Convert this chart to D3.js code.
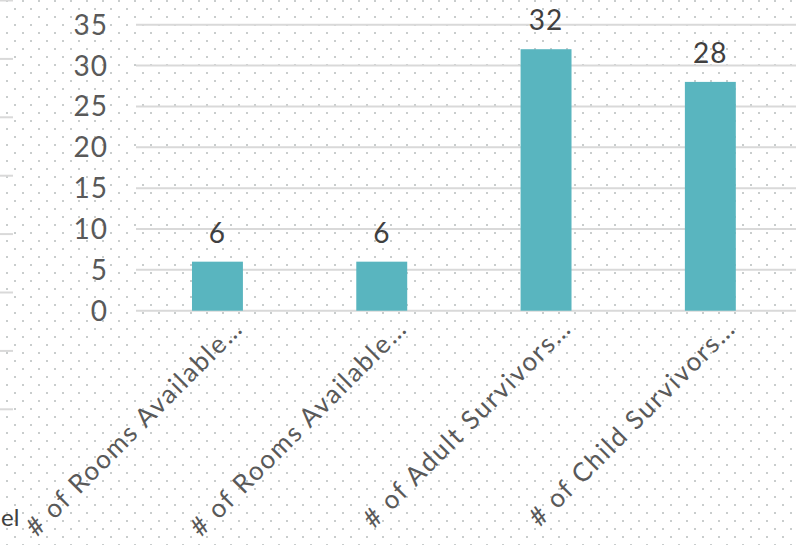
<!DOCTYPE html>
<html>
<head>
<meta charset="utf-8">
<script src="https://cdn.jsdelivr.net/npm/d3@7"></script>
<style>
  html, body { margin: 0; padding: 0; background: #fff; }
  svg { display: block; }
  text { font-family: Lato, "Open Sans", sans-serif; }
</style>
</head>
<body>
<svg id="chart" width="796" height="545"></svg>
<script>
const categories = [
  "# of Rooms Available\u2026",
  "# of Rooms Available\u2026",
  "# of Adult Survivors\u2026",
  "# of Child Survivors\u2026"
];
const values = [6, 6, 32, 28];
const yTicks = [0, 5, 10, 15, 20, 25, 30, 35];

const W = 796, H = 545;
const svg = d3.select("#chart");

// dotted background
const defs = svg.append("defs");
const pat = defs.append("pattern")
  .attr("id", "dots").attr("patternUnits", "userSpaceOnUse")
  .attr("width", 16).attr("height", 16);
pat.append("rect").attr("x", 6).attr("y", 0).attr("width", 2).attr("height", 2).attr("fill", "#c9cdcd");
pat.append("rect").attr("x", 14).attr("y", 8).attr("width", 2).attr("height", 2).attr("fill", "#c9cdcd");
svg.append("rect").attr("width", W).attr("height", H).attr("fill", "#fff");
svg.append("rect").attr("width", W).attr("height", H).attr("fill", "url(#dots)");

// ghost ticks of an underlying chart at the left edge
d3.range(8).forEach(i => {
  svg.append("line").attr("x1", 0).attr("x2", 13)
    .attr("y1", 0.5 + i * 58.4).attr("y2", 0.5 + i * 58.4)
    .attr("stroke", "#d9d9d9").attr("stroke-width", 2);
});
svg.append("text").attr("x", 1).attr("y", 526).attr("text-anchor", "start")
  .attr("font-size", 24).attr("fill", "#404040").text("el");

const x = d3.scaleBand().domain(d3.range(categories.length))
  .range([135.3, 792.5]).paddingInner(0.69).paddingOuter(0.345);
const y = d3.scaleLinear().domain([0, 35]).range([310.7, 24.7]);

// gridlines
svg.append("g").selectAll("line").data(yTicks).join("line")
  .attr("x1", 136).attr("x2", W)
  .attr("y1", d => y(d)).attr("y2", d => y(d))
  .attr("stroke", "#d9d9d9").attr("stroke-width", 2);

// y tick labels
svg.append("g").selectAll("text").data(yTicks).join("text")
  .attr("x", 108).attr("y", d => y(d) + 10)
  .attr("text-anchor", "end").attr("font-size", 28).attr("fill", "#595959")
  .attr("letter-spacing", 1)
  .text(d => d);

// bars
svg.append("g").selectAll("rect").data(values).join("rect")
  .attr("x", (d, i) => x(i)).attr("width", x.bandwidth())
  .attr("y", d => y(d)).attr("height", d => y(0) - y(d))
  .attr("fill", "#59b5bf");

// value labels
svg.append("g").selectAll("text").data(values).join("text")
  .attr("x", (d, i) => x(i) + x.bandwidth() / 2).attr("y", d => y(d) - 19)
  .attr("text-anchor", "middle").attr("font-size", 28).attr("fill", "#404040")
  .attr("letter-spacing", 1)
  .text(d => d);

// x labels
const xl = svg.append("g").selectAll("text").data(categories).join("text")
  .attr("transform", (d, i) => `translate(${x(i) + x.bandwidth() / 2 + 27},330) rotate(-45)`)
  .attr("text-anchor", "end").attr("font-size", 26).attr("fill", "#595959")
  .text(d => d);
// widen spacing to mimic the wide geometric face of the original
const ref = xl.nodes()[2];
const len = ref.getComputedTextLength();
const ls = (282 - len) / categories[2].length;
xl.attr("letter-spacing", ls);
</script>
</body>
</html>
